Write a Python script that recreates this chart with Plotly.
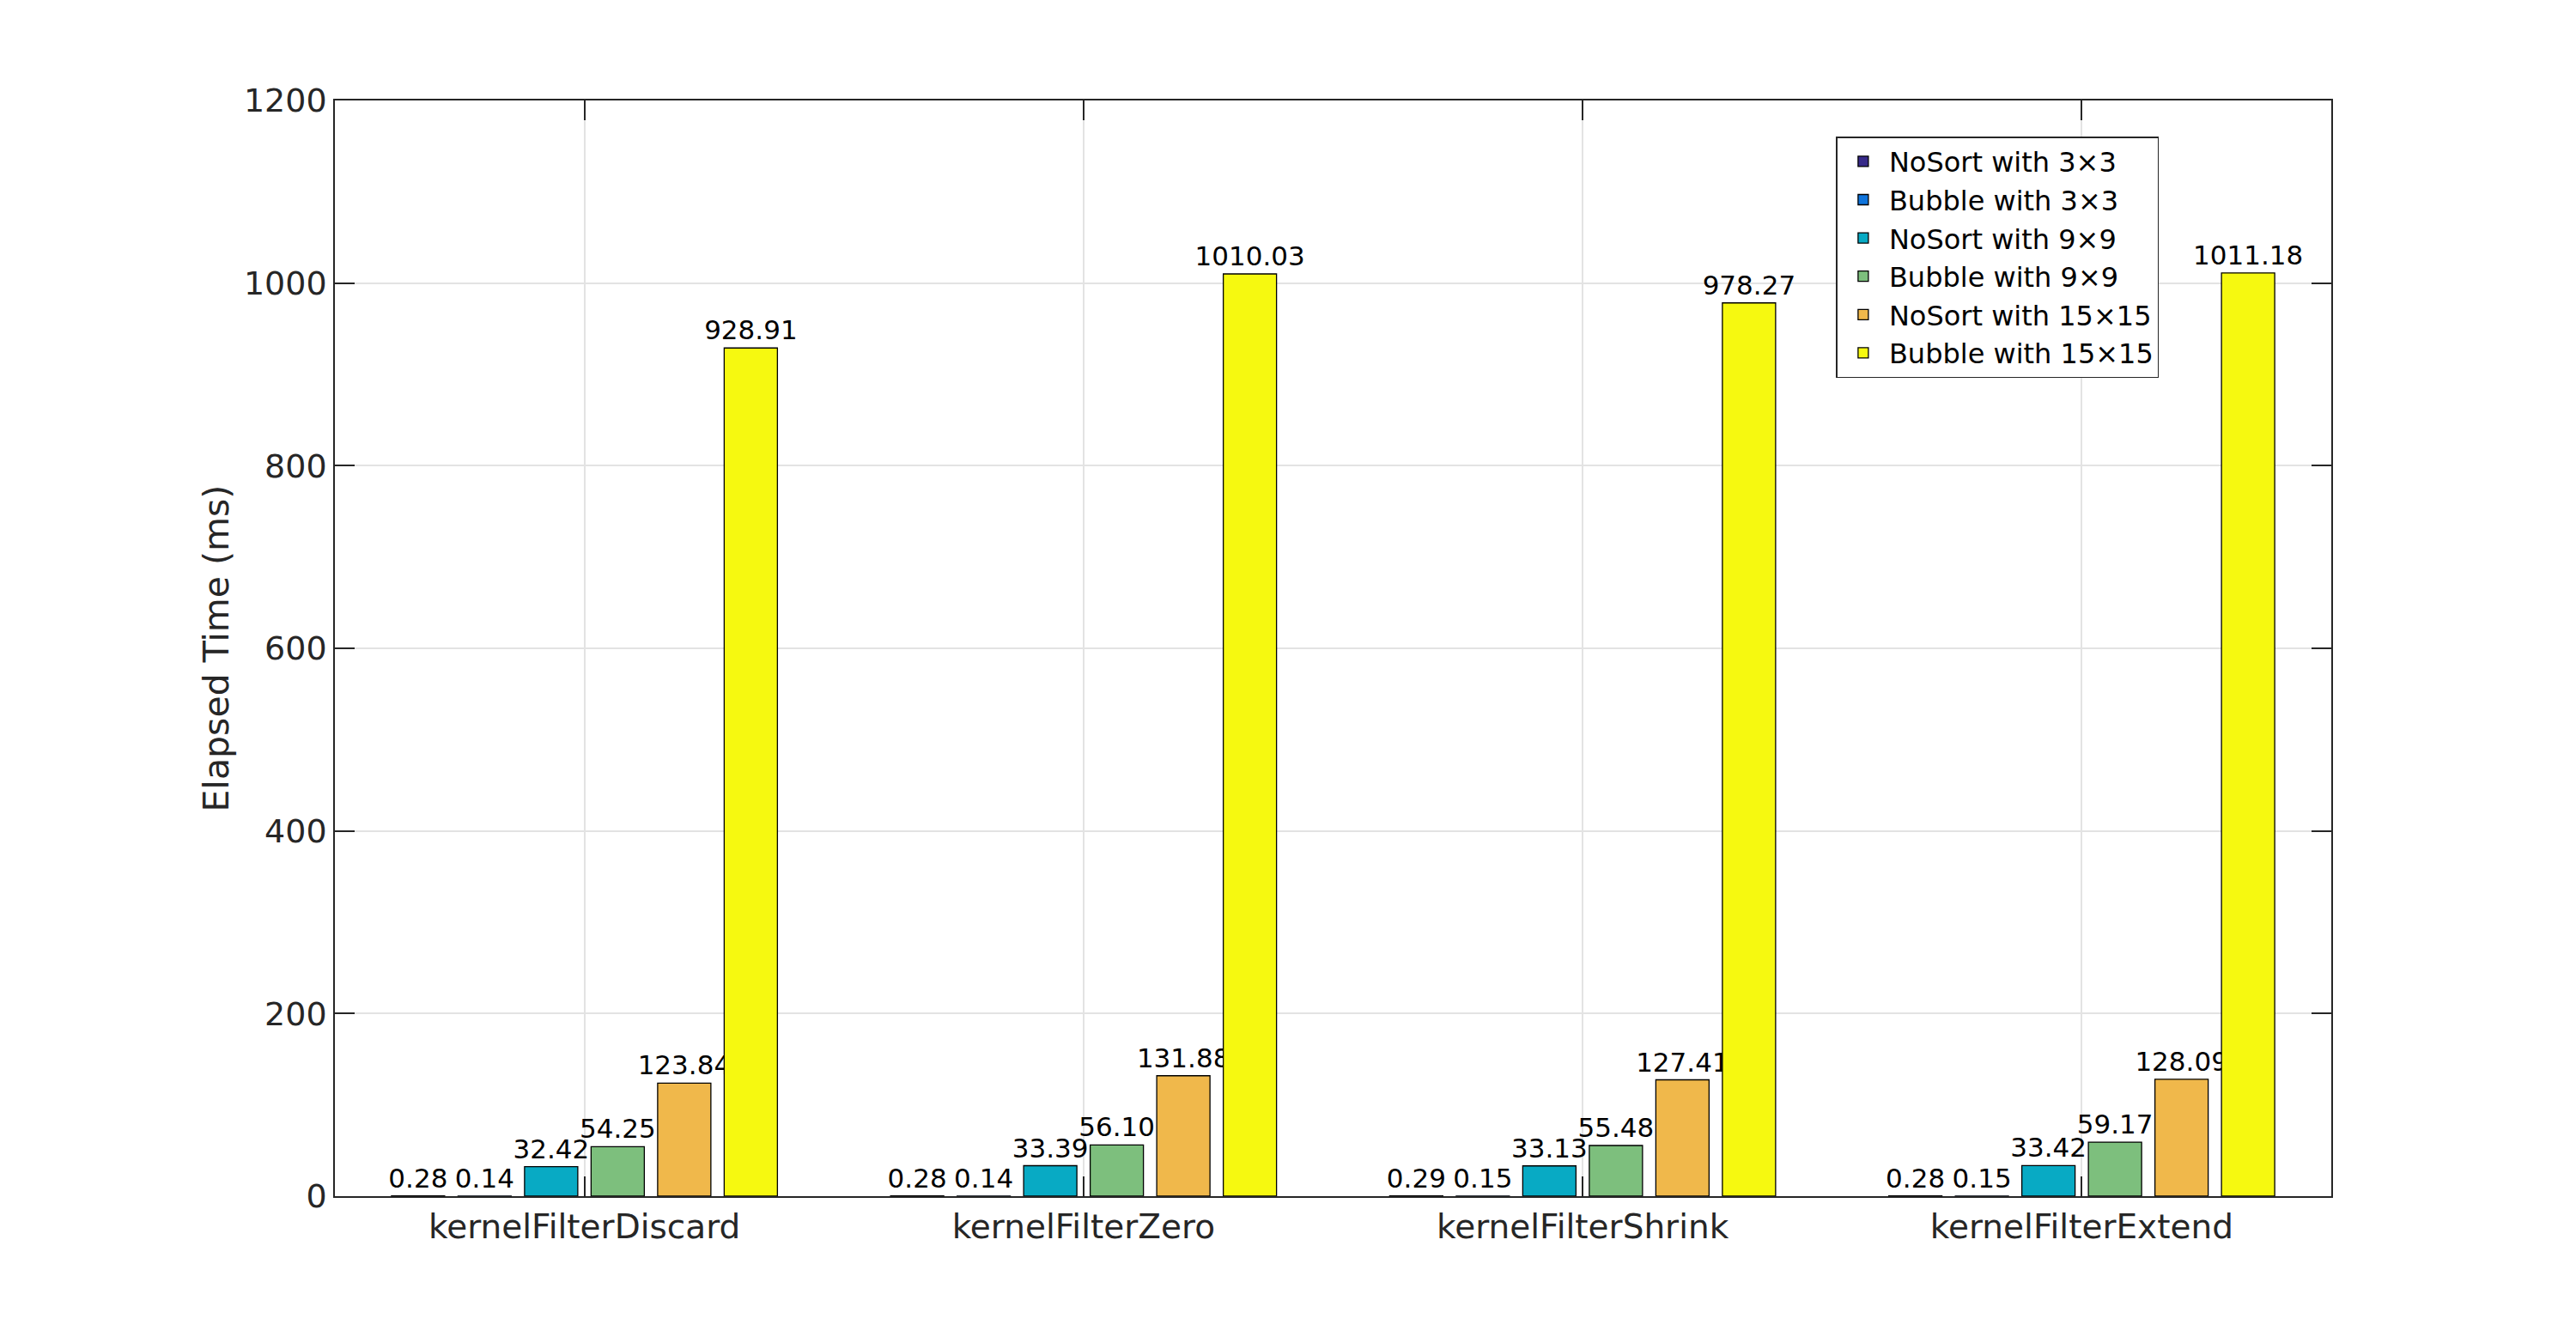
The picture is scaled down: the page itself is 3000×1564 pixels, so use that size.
import plotly.graph_objects as go

categories = ["kernelFilterDiscard", "kernelFilterZero", "kernelFilterShrink", "kernelFilterExtend"]
series_names = ["NoSort with 3×3", "Bubble with 3×3", "NoSort with 9×9",
                "Bubble with 9×9", "NoSort with 15×15", "Bubble with 15×15"]
nosort_3x3 = [0.28, 0.28, 0.29, 0.28]
bubble_3x3 = [0.14, 0.14, 0.15, 0.15]
nosort_9x9 = [32.42, 33.39, 33.13, 33.42]
bubble_9x9 = [54.25, 56.10, 55.48, 59.17]
nosort_15x15 = [123.84, 131.88, 127.41, 128.09]
bubble_15x15 = [928.91, 1010.03, 978.27, 1011.18]
series_values = [nosort_3x3, bubble_3x3, nosort_9x9, bubble_9x9, nosort_15x15, bubble_15x15]
colors = ["#372A89", "#0F74DC", "#08AAC4", "#7DBF7D", "#F0B84B", "#F6F910"]
y_ticks = [0, 200, 400, 600, 800, 1000, 1200]

FONT = "DejaVu Sans"
AXC = "#262626"

fig = go.Figure()
for name, vals, col in zip(series_names, series_values, colors):
    fig.add_trace(go.Bar(
        x=categories, y=vals, name=name,
        marker=dict(color=col, line=dict(color="black", width=1.3)),
        texttemplate="%{y:.2f}", textposition="outside",
        textfont=dict(family=FONT, size=31, color="black"),
        constraintext="none", cliponaxis=False,
    ))

fig.update_layout(
    width=3000, height=1564,
    paper_bgcolor="white", plot_bgcolor="white",
    margin=dict(l=382, r=293, t=109, b=179),
    barmode="group", bargap=0.2, bargroupgap=0.2,
    font=dict(family=FONT, color=AXC),
    legend=dict(
        x=0.752, y=0.967, xanchor="left", yanchor="top",
        font=dict(family=FONT, size=32, color="black"),
        bordercolor=AXC, borderwidth=1.5, bgcolor="white",
        tracegroupgap=0, itemwidth=50,
    ),
    showlegend=True,
)
fig.update_xaxes(
    range=[-0.5, 3.5], showline=True, linecolor=AXC, linewidth=1.5, mirror="ticks",
    ticks="inside", ticklen=23, tickcolor=AXC, tickwidth=1.5,
    showgrid=True, gridcolor="#E3E3E3", gridwidth=1.5,
    tickfont=dict(family=FONT, size=39, color=AXC),
)
fig.update_yaxes(
    range=[0, 1200], tickvals=y_ticks, showline=True, linecolor=AXC, linewidth=1.5, mirror="ticks",
    ticks="inside", ticklen=23, tickcolor=AXC, tickwidth=1.5,
    showgrid=True, gridcolor="#E3E3E3", gridwidth=1.5, zeroline=False,
    tickfont=dict(family=FONT, size=38, color=AXC),
    title=dict(text="Elapsed Time (ms)", font=dict(family=FONT, size=41, color=AXC), standoff=5),
)

fig.write_html("out.html")
